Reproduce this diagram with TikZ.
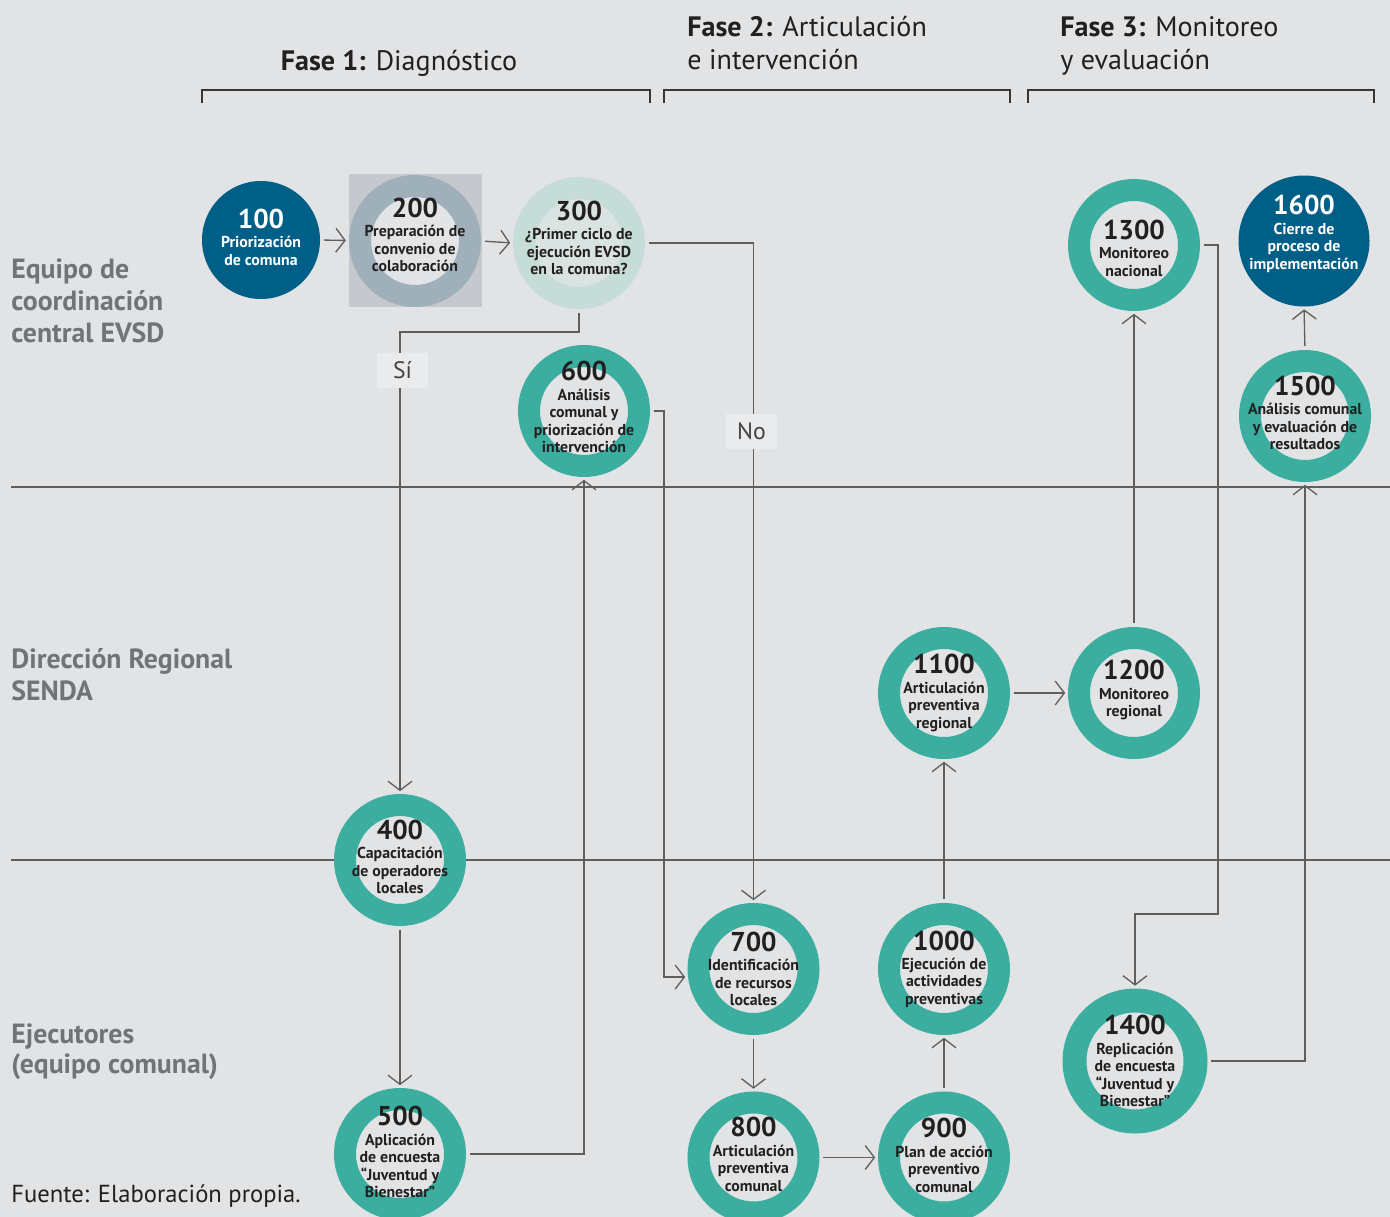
\documentclass[tikz,border=0pt]{standalone}
\usepackage{fontspec}
\setmainfont{PT Sans}
\usetikzlibrary{arrows.meta}

\definecolor{bg}{HTML}{E1E3E5}
\definecolor{ringteal}{HTML}{3BAE9F}
\definecolor{navy}{HTML}{005F86}
\definecolor{linec}{HTML}{5E5E5E}
\definecolor{ink}{HTML}{231F20}
\definecolor{lanegray}{HTML}{707479}
\definecolor{boxgray}{HTML}{C5C8CC}
\definecolor{ringgray}{HTML}{9FB0BB}
\definecolor{innergray}{HTML}{E2E4E6}
\definecolor{ringmint}{HTML}{C6DCD7}
\definecolor{innermint}{HTML}{D9E3E1}
\definecolor{tagfill}{HTML}{EAEBEC}

\newdimen\pxu
\pxu=0.02cm

\pgfdeclarelayer{bottom}
\pgfdeclarelayer{back}
\pgfsetlayers{bottom,back,main}

% number line on top of every stage label
\newcommand\nm[1]{{\fontsize{15.5}{15.5}\selectfont #1}\\[1.2pt]}

\tikzset{
  ring/.style={circle, draw=ringteal, line width=22\pxu, fill=bg,
    minimum size=110\pxu, inner sep=0pt, outer sep=11\pxu},
  bigring/.style={ring, line width=24\pxu, minimum size=121\pxu, outer sep=12\pxu},
  disc/.style={circle, fill=navy, minimum size=131\pxu, inner sep=0pt, outer sep=0pt},
  stagetxt/.style={align=center, text=ink, inner sep=0pt,
    font=\bfseries\fontsize{9}{9.9}\selectfont},
  arr/.style={draw=linec, line width=0.75pt,
    -{Straight Barb[length=5.2pt,width=13.6pt]},
    shorten <=2.2pt, shorten >=1.6pt},
  lane/.style={anchor=base west, text=lanegray, inner sep=0pt,
    font=\bfseries\fontsize{15.8}{18}\selectfont},
  phase/.style={inner sep=0pt, text=ink, font=\fontsize{16}{19}\selectfont},
  bracket/.style={draw=ink!90, line width=0.85pt},
  lanerule/.style={draw=linec, line width=0.6pt},
  tag/.style={fill=tagfill, text=ink!85, inner sep=0pt,
    minimum width=51\pxu, minimum height=35\pxu,
    font=\fontsize{13.5}{15}\selectfont},
}

\begin{document}
\begin{tikzpicture}[x=0.02cm, y=-0.02cm]
\begin{pgfonlayer}{bottom}
  \fill[bg] (0,0) rectangle (1390,1217);
\end{pgfonlayer}
\useasboundingbox (0,0) rectangle (1390,1217);

% phase headings and brackets
\node[phase, anchor=base] (ph1) at (399,71) {\textbf{Fase 1:} Diagnóstico};
\node[phase, anchor=base west] (ph2a) at (687,36) {\textbf{Fase 2:} Articulación};
\node[phase, anchor=base west] (ph2b) at (687,70) {e intervención};
\node[phase, anchor=base west] (ph3a) at (1060,36) {\textbf{Fase 3:} Monitoreo};
\node[phase, anchor=base west] (ph3b) at (1060,70) {y evaluación};
\draw[bracket] (202,103) -- (202,90) -- (650,90) -- (650,103);
\draw[bracket] (664,103) -- (664,90) -- (1010,90) -- (1010,103);
\draw[bracket] (1028,103) -- (1028,90) -- (1374,90) -- (1374,103);

% lane titles
\node[lane] (l1a) at (11,278) {Equipo de};
\node[lane] (l1b) at (11,310) {coordinación};
\node[lane] (l1c) at (11,342) {central EVSD};
\node[lane] (l2a) at (11,668) {Dirección Regional};
\node[lane] (l2b) at (11,700) {SENDA};
\node[lane] (l3a) at (11,1043) {Ejecutores};
\node[lane] (l3b) at (11,1073) {(equipo comunal)};
\node[anchor=base west, inner sep=0pt, text=ink, font=\fontsize{14}{16}\selectfont]
  (src) at (11,1202) {Fuente: Elaboración propia.};

% stages
\node[disc, minimum size=118\pxu] (n100) at (261,240) {};
\node[stagetxt, text=white, yshift=3\pxu] (t100) at (n100.center)
  {\nm{100}Priorización\\de comuna};

\node[fill=boxgray, minimum width=133\pxu, minimum height=133\pxu, inner sep=0pt]
  (b200) at (415.5,240.5) {};
\node[ring, draw=ringgray, fill=innergray] (n200) at (415,241) {};
\node[stagetxt, yshift=6\pxu] (t200) at (n200.center)
  {\nm{200}Preparación de\\convenio de\\colaboración};

\node[ring, draw=ringmint, fill=innermint] (n300) at (579,243) {};
\node[stagetxt, yshift=5\pxu] (t300) at (n300.center)
  {\nm{300}¿Primer ciclo de\\ejecución EVSD\\en la comuna?};

\node[ring] (n600) at (584,411) {};
\node[stagetxt, yshift=4\pxu] (t600) at (n600.center)
  {\nm{600}Análisis\\comunal y\\priorización de\\intervención};

\node[ring] (n400) at (400,860) {};
\node[stagetxt, yshift=3\pxu] (t400) at (n400.center)
  {\nm{400}Capacitación\\de operadores\\locales};

\node[ring] (n500) at (400,1154) {};
\node[stagetxt, yshift=2\pxu] (t500) at (n500.center)
  {\nm{500}Aplicación\\de encuesta\\“Juventud y\\Bienestar”};

\node[ring] (n700) at (753.5,969) {};
\node[stagetxt] (t700) at (n700.center)
  {\nm{700}Identificación\\de recursos\\locales};

\node[ring] (n800) at (753.5,1157.5) {};
\node[stagetxt, yshift=3\pxu] (t800) at (n800.center)
  {\nm{800}Articulación\\preventiva\\comunal};

\node[ring] (n900) at (944,1157.5) {};
\node[stagetxt, yshift=2\pxu] (t900) at (n900.center)
  {\nm{900}Plan de acción\\preventivo\\comunal};

\node[ring] (n1000) at (944,969) {};
\node[stagetxt] (t1000) at (n1000.center)
  {\nm{1000}Ejecución de\\actividades\\preventivas};

\node[ring] (n1100) at (944,693) {};
\node[stagetxt] (t1100) at (n1100.center)
  {\nm{1100}Articulación\\preventiva\\regional};

\node[ring] (n1200) at (1134,693) {};
\node[stagetxt, yshift=3\pxu] (t1200) at (n1200.center)
  {\nm{1200}Monitoreo\\regional};

\node[ring] (n1300) at (1134,245) {};
\node[stagetxt, yshift=-3\pxu] (t1300) at (n1300.center)
  {\nm{1300}Monitoreo\\nacional};

\node[bigring] (n1400) at (1135,1061) {};
\node[stagetxt] (t1400) at (n1400.center)
  {\nm{1400}Replicación\\de encuesta\\“Juventud y\\Bienestar”};

\node[ring] (n1500) at (1305,416) {};
\node[stagetxt, yshift=3\pxu] (t1500) at (n1500.center)
  {\nm{1500}Análisis comunal\\y evaluación de\\resultados};

\node[disc] (n1600) at (1304,241) {};
\node[stagetxt, text=white, yshift=7\pxu] (t1600) at (n1600.center)
  {\nm{1600}Cierre de\\proceso de\\implementación};

% turning points of the routed connectors
\coordinate (k300) at (579,332);
\coordinate (k600) at (664,411);
\coordinate (k1300) at (1218,914);

\begin{pgfonlayer}{back}
  % lane separators
  \draw[lanerule] (11,487) -- (1390,487);
  \draw[lanerule] (11,860) -- (1390,860);

  % flow
  \draw[arr] (n100.east) -- (b200.west);
  \draw[arr] (n200.east) -- (n300.west);
  \draw[arr] (n300.east) -| (n700.north);
  \draw[arr] (n300.south) -- (k300) -| (n400.north);
  \draw[arr] (n600.east) -- (k600) |- (n700.187);
  \draw[arr] (n400.south) -- (n500.north);
  \draw[arr] (n500.east) -| (n600.south);
  \draw[arr] (n700.south) -- (n800.north);
  \draw[arr] (n800.east) -- (n900.west);
  \draw[arr] (n900.north) -- (n1000.south);
  \draw[arr] (n1000.north) -- (n1100.south);
  \draw[arr] (n1100.east) -- (n1200.west);
  \draw[arr] (n1200.north) -- (n1300.south);
  \draw[arr] (n1300.east) -| (k1300) -| (n1400.north);
  \draw[arr] (n1400.east) -| (n1500.south);
  \draw[arr] (n1500.north) -- (n1600.south);
\end{pgfonlayer}

% decision tags
\node[tag] (si) at (402.5,370.5) {Sí};
\node[tag] (no) at (751.5,431.5) {No};
\end{tikzpicture}
\end{document}
